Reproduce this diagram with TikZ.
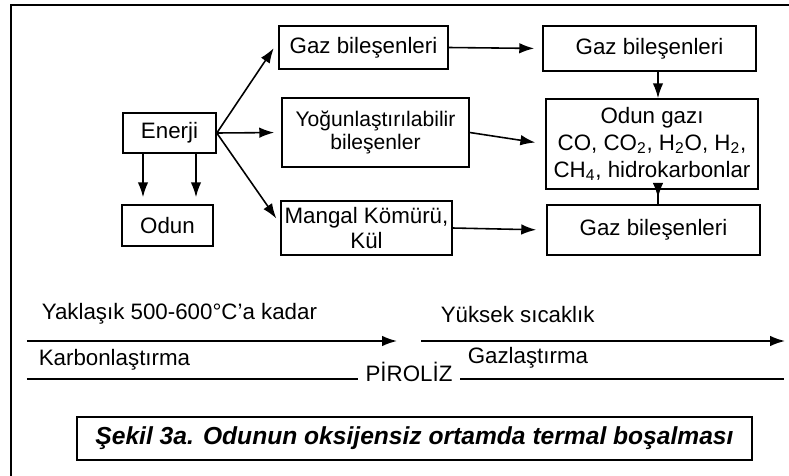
\documentclass[tikz,border=0pt]{standalone}
\usepackage{fontspec}
\setmainfont{Liberation Sans}
\usepackage{tikz}
\usetikzlibrary{arrows.meta}

\begin{document}
\begin{tikzpicture}[
		box/.style={
			draw,
			line width=0.9pt,
			inner sep=2pt,
			align=center,
			font=\fontsize{12.7}{14.6}\selectfont
		},
		lbl/.style={
			inner sep=0pt,
			anchor=west,
			font=\fontsize{12.7}{14.6}\selectfont
		},
		arr/.style={
			-{Latex[length=8.5pt,width=6pt]},
			line width=0.9pt
		},
		line width=0.9pt
		]
		
		\useasboundingbox (0,0) rectangle (15.78,-9.52);
		\draw[line width=1pt] (0.22,-9.8) -- (0.22,-0.1) -- (16,-0.1);
		
		\node[box, minimum width=1.86cm, minimum height=0.8cm] at (3.39, -2.66)
		(enerji) {Enerji};
		\node[box, minimum width=1.82cm, minimum height=0.82cm] at (3.35, -4.51)
		(odun) {Odun};
		
		\node[box, minimum width=3.38cm, minimum height=0.86cm] at (7.27, -0.95)
		(gaz1) {Gaz bileşenleri};
		\node[box, minimum width=3.74cm, minimum height=1.38cm,
			font=\fontsize{12}{13.4}\selectfont] at (7.51, -2.65)
		(yog) {Yoğunlaştırılabilir\\bileşenler};
		\node[box, minimum width=3.34cm, minimum height=1.08cm,
			font=\fontsize{12.7}{14.2}\selectfont] at (7.33, -4.56)
		(mangal) {Mangal Kömürü,\\Kül};
		
		\node[box, minimum width=4.26cm, minimum height=0.9cm] at (12.99, -0.97)
		(gaz2) {Gaz bileşenleri};
		\node[box, minimum width=4.24cm, minimum height=1.8cm,
			font=\fontsize{12.7}{15.4}\selectfont] at (13.04, -2.88)
		(odungaz) {Odun gazı\\CO, CO\textsubscript{2}, H\textsubscript{2}O, H\textsubscript{2},\\CH\textsubscript{4}, hidrokarbonlar};
		\node[box, minimum width=4.26cm, minimum height=1.0cm] at (13.07, -4.6)
		(gaz3) {Gaz bileşenleri};
		
		% alt kisim
		\coordinate (a1) at (0.54, -6.82);
		\coordinate (a2) at (7.94, -6.82);
		\coordinate (a3) at (8.42, -6.82);
		\coordinate (a4) at (15.70, -6.82);
		\coordinate (k1) at (0.54, -7.58);
		\coordinate (k2) at (15.68, -7.58);
		
		\node[lbl] at (0.82, -6.28) (yaklasik) {Yaklaşık 500-600°C’a kadar};
		\node[lbl] at (8.8, -6.30) (yuksek) {Yüksek sıcaklık};
		\node[lbl] at (0.76, -7.2) (karbon) {Karbonlaştırma};
		\node[lbl] at (9.34, -7.16) (gazlas) {Gazlaştırma};
		\node[font=\fontsize{12.7}{14.6}\selectfont, inner sep=4pt] at (8.18, -7.44)
		(piroliz) {PİROLİZ};
		
		\node[box, minimum width=13.5cm, minimum height=0.86cm,
			font=\fontsize{14}{15}\selectfont\bfseries\itshape] at (8.29, -8.77)
		(sekil) {Şekil 3a. Odunun oksijensiz ortamda termal boşalması};
		
		\draw[arr] ([xshift=-0.53cm]enerji.south) -- ([xshift=-0.53cm, yshift=0.14cm]enerji.south |- odun.north);
		\draw[arr] ([xshift=0.53cm]enerji.south) -- ([xshift=0.53cm, yshift=0.14cm]enerji.south |- odun.north);
		\draw[arr, shorten >=0.16cm] (enerji.east) -- ([yshift=0.12cm]gaz1.west);
		\draw[arr, shorten >=0.14cm] (enerji.east) -- (yog.west);
		\draw[arr, shorten >=0.14cm] (enerji.east) -- ([yshift=-0.48cm]mangal.north west);
		\draw[arr, shorten >=0.16cm] (gaz1.east) -- (gaz2.west);
		\draw[arr, shorten >=0.2cm] (yog.east) -- (odungaz.west);
		\draw[arr, shorten >=0.2cm] (mangal.east) -- (gaz3.west);
		\draw[arr] ([xshift=0.17cm]gaz2.south) -- ([xshift=0.17cm]gaz2.south |- odungaz.north);
		\draw ([xshift=0.12cm]odungaz.south) -- ([xshift=0.12cm]odungaz.south |- gaz3.north);
		\draw[arr] ([xshift=0.12cm, yshift=0.04cm]odungaz.south) -- ++(0,-0.2);
		
		\draw[arr] (a1) -- (a2);
		\draw[arr] (a3) -- (a4);
		\draw (k1) -- (k1 -| piroliz.west);
		\draw (piroliz.east |- k2) -- (k2);
		
		\end{tikzpicture}
\end{document}
